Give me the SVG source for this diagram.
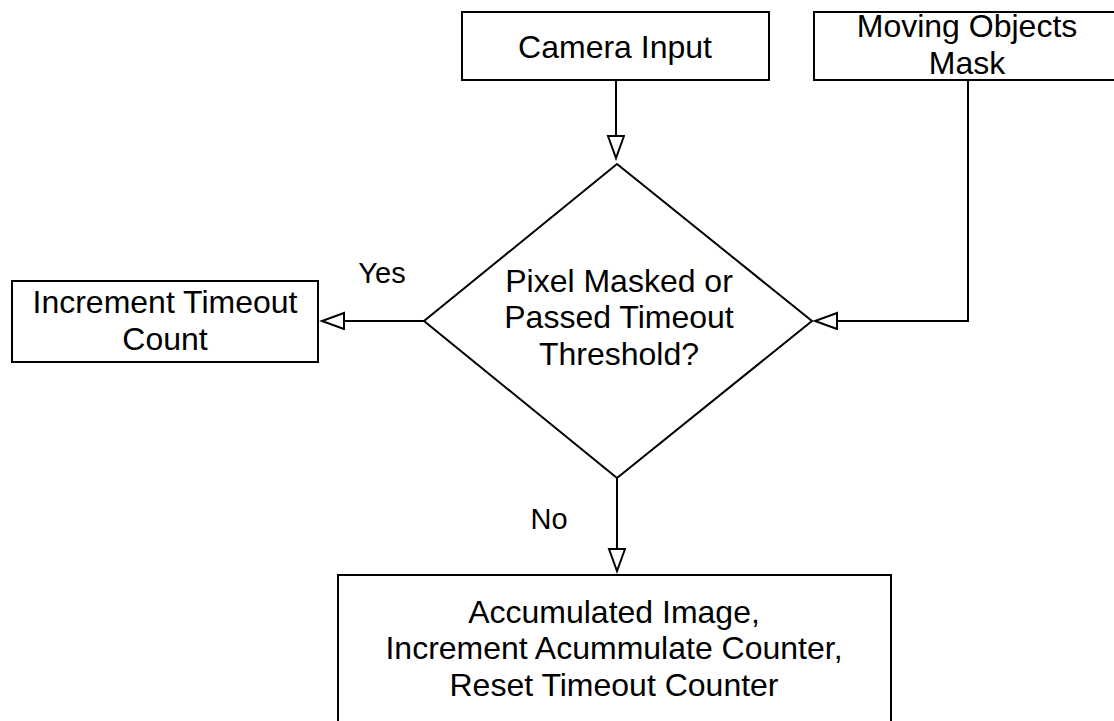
<svg xmlns="http://www.w3.org/2000/svg" width="1114" height="721" viewBox="0 0 1114 721">
<style>
.box{fill:#fff;stroke:#000;stroke-width:2}
.t{font-family:"Liberation Sans",Arial,Helvetica,sans-serif;font-size:32px;fill:#000;text-anchor:middle}
.lbl{font-family:"Liberation Sans",Arial,Helvetica,sans-serif;font-size:29px;fill:#000;text-anchor:middle}
.c{fill:none;stroke:#000;stroke-width:2}
</style>
<defs>
<marker id="arr" markerUnits="userSpaceOnUse" markerWidth="26" markerHeight="20" refX="23" refY="9" orient="auto" viewBox="0 0 26 20">
<path d="M1,1 L23,9 L1,17 Z" fill="#fff" stroke="#000" stroke-width="2"/>
</marker>
</defs>
<rect width="1114" height="721" fill="#fff"/>
<g id="connectors">
<path class="c" d="M616,80 V158" marker-end="url(#arr)"/>
<path class="c" d="M968,80 V321 H815" marker-end="url(#arr)"/>
<path class="c" d="M424,321 H322" marker-end="url(#arr)"/>
<path class="c" d="M617,478 V571" marker-end="url(#arr)"/>
<text class="lbl" x="382" y="283">Yes</text>
<text class="lbl" x="549" y="529">No</text>
</g>
<g id="camera-input">
<rect class="box" x="462" y="12" width="307" height="68"/>
<text class="t" x="615" y="58">Camera Input</text>
</g>
<g id="moving-objects-mask">
<rect class="box" x="814" y="12" width="307" height="68"/>
<text class="t" x="967" y="37">Moving Objects</text>
<text class="t" x="967" y="74">Mask</text>
</g>
<g id="decision">
<polygon class="box" points="617,164 812,321 617,478 424,321"/>
<text class="t" x="619" y="292">Pixel Masked or</text>
<text class="t" x="619" y="328">Passed Timeout</text>
<text class="t" x="619" y="365">Threshold?</text>
</g>
<g id="increment-timeout">
<rect class="box" x="12" y="281" width="306" height="81"/>
<text class="t" x="165" y="313">Increment Timeout</text>
<text class="t" x="165" y="350">Count</text>
</g>
<g id="accumulated">
<rect class="box" x="338" y="575" width="553" height="160"/>
<text class="t" x="614" y="623">Accumulated Image,</text>
<text class="t" x="614" y="659">Increment Acummulate Counter,</text>
<text class="t" x="614" y="696">Reset Timeout Counter</text>
</g>
</svg>
